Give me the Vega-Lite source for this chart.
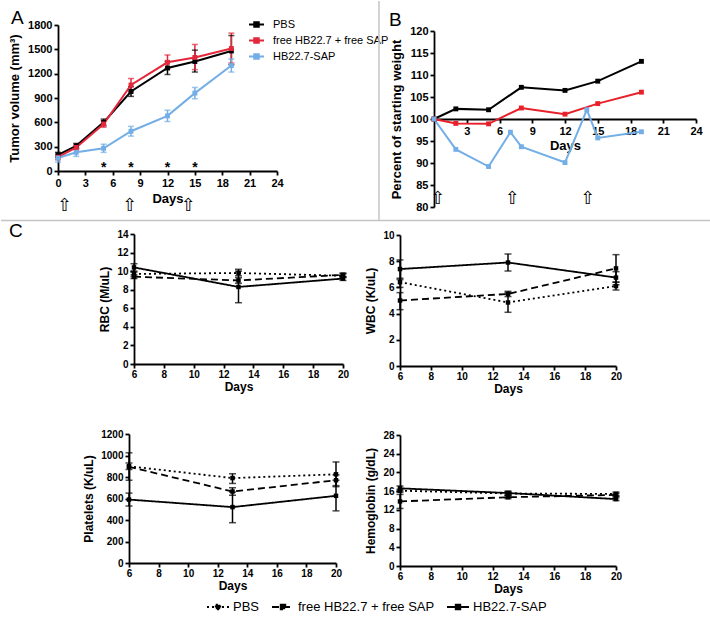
{
  "$schema": "https://vega.github.io/schema/vega-lite/v6.json",
  "padding": 0,
  "background": "white",
  "config": {
    "view": {"stroke": null},
    "font": "Liberation Sans",
    "axis": {"domainColor": "#000", "domainWidth": 1.8, "tickColor": "#000", "tickWidth": 1.8, "tickSize": 4, "labelColor": "#000", "labelFontWeight": "bold", "labelFontSize": 11, "labelPadding": 2, "labelFlush": false, "labelOverlap": false, "titleColor": "#000", "titleFontWeight": "bold", "titleFontSize": 13, "grid": false},
    "title": {"color": "#000", "fontWeight": "normal", "fontSize": 19}
  },
  "datasets": {
    "tumor": [
      {"day": 0, "group": "PBS", "vol": 200, "lo": 170, "hi": 230},
      {"day": 2, "group": "PBS", "vol": 310, "lo": 280, "hi": 340},
      {"day": 5, "group": "PBS", "vol": 600, "lo": 560, "hi": 640},
      {"day": 8, "group": "PBS", "vol": 980, "lo": 920, "hi": 1040},
      {"day": 12, "group": "PBS", "vol": 1270, "lo": 1190, "hi": 1350},
      {"day": 15, "group": "PBS", "vol": 1350, "lo": 1220, "hi": 1490},
      {"day": 19, "group": "PBS", "vol": 1480, "lo": 1310, "hi": 1670},
      {"day": 0, "group": "free HB22.7 + free SAP", "vol": 170, "lo": 140, "hi": 200},
      {"day": 2, "group": "free HB22.7 + free SAP", "vol": 290, "lo": 260, "hi": 320},
      {"day": 5, "group": "free HB22.7 + free SAP", "vol": 580, "lo": 540, "hi": 620},
      {"day": 8, "group": "free HB22.7 + free SAP", "vol": 1060, "lo": 980, "hi": 1140},
      {"day": 12, "group": "free HB22.7 + free SAP", "vol": 1340, "lo": 1260, "hi": 1430},
      {"day": 15, "group": "free HB22.7 + free SAP", "vol": 1400, "lo": 1250, "hi": 1560},
      {"day": 19, "group": "free HB22.7 + free SAP", "vol": 1510, "lo": 1330, "hi": 1700},
      {"day": 0, "group": "HB22.7-SAP", "vol": 160, "lo": 110, "hi": 210},
      {"day": 2, "group": "HB22.7-SAP", "vol": 230, "lo": 180, "hi": 280},
      {"day": 5, "group": "HB22.7-SAP", "vol": 280, "lo": 230, "hi": 330},
      {"day": 8, "group": "HB22.7-SAP", "vol": 490, "lo": 430, "hi": 550},
      {"day": 12, "group": "HB22.7-SAP", "vol": 680, "lo": 610, "hi": 750},
      {"day": 15, "group": "HB22.7-SAP", "vol": 960, "lo": 890, "hi": 1030},
      {"day": 19, "group": "HB22.7-SAP", "vol": 1300, "lo": 1220, "hi": 1380}
    ],
    "weight": [
      {"day": 0, "group": "PBS", "pct": 100},
      {"day": 2, "group": "PBS", "pct": 102.3},
      {"day": 5, "group": "PBS", "pct": 102.1},
      {"day": 8, "group": "PBS", "pct": 107.2},
      {"day": 12, "group": "PBS", "pct": 106.5},
      {"day": 15, "group": "PBS", "pct": 108.6},
      {"day": 19, "group": "PBS", "pct": 113.1},
      {"day": 0, "group": "free HB22.7 + free SAP", "pct": 100},
      {"day": 2, "group": "free HB22.7 + free SAP", "pct": 99.0},
      {"day": 5, "group": "free HB22.7 + free SAP", "pct": 98.9},
      {"day": 8, "group": "free HB22.7 + free SAP", "pct": 102.5},
      {"day": 12, "group": "free HB22.7 + free SAP", "pct": 101.1},
      {"day": 15, "group": "free HB22.7 + free SAP", "pct": 103.5},
      {"day": 19, "group": "free HB22.7 + free SAP", "pct": 106.1},
      {"day": 0, "group": "HB22.7-SAP", "pct": 100},
      {"day": 2, "group": "HB22.7-SAP", "pct": 93.1},
      {"day": 5, "group": "HB22.7-SAP", "pct": 89.2},
      {"day": 7, "group": "HB22.7-SAP", "pct": 97.0},
      {"day": 8, "group": "HB22.7-SAP", "pct": 93.7},
      {"day": 12, "group": "HB22.7-SAP", "pct": 90.1},
      {"day": 14, "group": "HB22.7-SAP", "pct": 102.1},
      {"day": 15, "group": "HB22.7-SAP", "pct": 95.7},
      {"day": 19, "group": "HB22.7-SAP", "pct": 97.1}
    ],
    "blood": [
      {"metric": "RBC", "trt": "PBS", "day": 6, "val": 9.7, "lo": 9.4, "hi": 10.0},
      {"metric": "RBC", "trt": "PBS", "day": 13, "val": 9.8, "lo": 9.5, "hi": 10.2},
      {"metric": "RBC", "trt": "PBS", "day": 20, "val": 9.5, "lo": 9.3, "hi": 9.7},
      {"metric": "RBC", "trt": "free HB22.7 + free SAP", "day": 6, "val": 9.4, "lo": 9.2, "hi": 9.6},
      {"metric": "RBC", "trt": "free HB22.7 + free SAP", "day": 13, "val": 9.0, "lo": 8.7, "hi": 9.3},
      {"metric": "RBC", "trt": "free HB22.7 + free SAP", "day": 20, "val": 9.6, "lo": 9.4, "hi": 9.8},
      {"metric": "RBC", "trt": "HB22.7-SAP", "day": 6, "val": 10.4, "lo": 9.9, "hi": 10.8},
      {"metric": "RBC", "trt": "HB22.7-SAP", "day": 13, "val": 8.3, "lo": 6.6, "hi": 10.0},
      {"metric": "RBC", "trt": "HB22.7-SAP", "day": 20, "val": 9.2, "lo": 9.0, "hi": 9.4},
      {"metric": "WBC", "trt": "PBS", "day": 6, "val": 6.4, "lo": 6.0, "hi": 6.7},
      {"metric": "WBC", "trt": "PBS", "day": 13, "val": 4.85, "lo": 4.1, "hi": 5.6},
      {"metric": "WBC", "trt": "PBS", "day": 20, "val": 6.1, "lo": 5.8, "hi": 6.4},
      {"metric": "WBC", "trt": "free HB22.7 + free SAP", "day": 6, "val": 5.0, "lo": 4.3, "hi": 5.6},
      {"metric": "WBC", "trt": "free HB22.7 + free SAP", "day": 13, "val": 5.5, "lo": 5.3, "hi": 5.7},
      {"metric": "WBC", "trt": "free HB22.7 + free SAP", "day": 20, "val": 7.45, "lo": 6.4, "hi": 8.5},
      {"metric": "WBC", "trt": "HB22.7-SAP", "day": 6, "val": 7.4, "lo": 6.6, "hi": 8.1},
      {"metric": "WBC", "trt": "HB22.7-SAP", "day": 13, "val": 7.9, "lo": 7.25, "hi": 8.55},
      {"metric": "WBC", "trt": "HB22.7-SAP", "day": 20, "val": 6.75, "lo": 6.2, "hi": 7.2},
      {"metric": "PLT", "trt": "PBS", "day": 6, "val": 900, "lo": 870, "hi": 930},
      {"metric": "PLT", "trt": "PBS", "day": 13, "val": 790, "lo": 740, "hi": 830},
      {"metric": "PLT", "trt": "PBS", "day": 20, "val": 825, "lo": 710, "hi": 940},
      {"metric": "PLT", "trt": "free HB22.7 + free SAP", "day": 6, "val": 895, "lo": 770, "hi": 1025},
      {"metric": "PLT", "trt": "free HB22.7 + free SAP", "day": 13, "val": 665, "lo": 630, "hi": 700},
      {"metric": "PLT", "trt": "free HB22.7 + free SAP", "day": 20, "val": 770, "lo": 720, "hi": 820},
      {"metric": "PLT", "trt": "HB22.7-SAP", "day": 6, "val": 590, "lo": 530, "hi": 650},
      {"metric": "PLT", "trt": "HB22.7-SAP", "day": 13, "val": 520, "lo": 375, "hi": 660},
      {"metric": "PLT", "trt": "HB22.7-SAP", "day": 20, "val": 625, "lo": 485, "hi": 770},
      {"metric": "HGB", "trt": "PBS", "day": 6, "val": 16.1, "lo": 15.8, "hi": 16.4},
      {"metric": "HGB", "trt": "PBS", "day": 13, "val": 15.5, "lo": 15.1, "hi": 15.9},
      {"metric": "HGB", "trt": "PBS", "day": 20, "val": 15.4, "lo": 15.0, "hi": 15.8},
      {"metric": "HGB", "trt": "free HB22.7 + free SAP", "day": 6, "val": 13.8, "lo": 12.3, "hi": 15.3},
      {"metric": "HGB", "trt": "free HB22.7 + free SAP", "day": 13, "val": 14.7, "lo": 14.4, "hi": 15.0},
      {"metric": "HGB", "trt": "free HB22.7 + free SAP", "day": 20, "val": 15.2, "lo": 14.9, "hi": 15.5},
      {"metric": "HGB", "trt": "HB22.7-SAP", "day": 6, "val": 16.6, "lo": 16.1, "hi": 17.1},
      {"metric": "HGB", "trt": "HB22.7-SAP", "day": 13, "val": 15.6, "lo": 15.2, "hi": 16.0},
      {"metric": "HGB", "trt": "HB22.7-SAP", "day": 20, "val": 14.3, "lo": 14.0, "hi": 14.6}
    ],
    "arrowsA": [{"day": 0.74, "pos": -431}, {"day": 7.9, "pos": -431}, {"day": 14.3, "pos": -431}],
    "starsA": [{"day": 5, "pos": 35}, {"day": 8, "pos": 35}, {"day": 12, "pos": 35}, {"day": 15, "pos": 35}],
    "arrowsB": [{"day": 0.37, "pos": 81.8}, {"day": 7.2, "pos": 81.8}, {"day": 14.1, "pos": 81.8}]
  },
  "columns": 2,
  "align": "each",
  "bounds": "flush",
  "spacing": {"row": 27, "column": 57},
  "resolve": {"scale": {"color": "independent", "strokeDash": "independent"}, "legend": {"color": "independent", "strokeDash": "independent"}},
  "concat": [
    {
      "width": 219,
      "height": 146,
      "title": {"text": "A", "anchor": "start", "frame": "group", "dx": -47, "offset": -11.5},
      "layer": [
        {
          "data": {"name": "tumor"},
          "mark": {"type": "rule", "strokeWidth": 1.5},
          "encoding": {
            "x": {"field": "day", "type": "quantitative", "scale": {"domain": [0, 24], "nice": false}, "axis": {"values": [0, 3, 6, 9, 12, 15, 18, 21, 24], "tickCount": 50, "format": "d", "title": "Days", "titlePadding": 4, "labelOverlap": false}},
            "y": {"field": "lo", "type": "quantitative", "title": "Tumor volume (mm³)", "scale": {"domain": [0, 1800], "nice": false}, "axis": {"values": [0, 300, 600, 900, 1200, 1500, 1800], "tickCount": 50, "format": "d", "titlePadding": 6, "labelOverlap": false}},
            "y2": {"field": "hi"},
            "color": {"field": "group", "type": "nominal", "scale": {"domain": ["PBS", "free HB22.7 + free SAP", "HB22.7-SAP"], "range": ["#000000", "#e3283c", "#73aee6"]}, "legend": {"title": null, "orient": "none", "direction": "vertical", "legendX": 190, "legendY": -9, "symbolType": "M-1,0L1,0M-0.3,-0.3L0.3,-0.3L0.3,0.3L-0.3,0.3Z", "symbolSize": 225, "symbolStrokeWidth": 2, "labelFontSize": 11, "labelColor": "#000", "rowPadding": 1, "labelOffset": 8, "encode": {"symbols": {"update": {"fill": {"scale": "color", "field": "value"}, "stroke": {"scale": "color", "field": "value"}}}}}}
          }
        },
        {
          "data": {"name": "tumor"},
          "mark": {"type": "tick", "orient": "horizontal", "size": 6, "thickness": 1.5},
          "encoding": {
            "x": {"field": "day", "type": "quantitative"},
            "y": {"field": "lo", "type": "quantitative", "title": "Tumor volume (mm³)"},
            "color": {"field": "group", "type": "nominal"}
          }
        },
        {
          "data": {"name": "tumor"},
          "mark": {"type": "tick", "orient": "horizontal", "size": 6, "thickness": 1.5},
          "encoding": {
            "x": {"field": "day", "type": "quantitative"},
            "y": {"field": "hi", "type": "quantitative", "title": "Tumor volume (mm³)"},
            "color": {"field": "group", "type": "nominal"}
          }
        },
        {
          "data": {"name": "tumor"},
          "mark": {"type": "line", "strokeWidth": 2},
          "encoding": {
            "x": {"field": "day", "type": "quantitative"},
            "y": {"field": "vol", "type": "quantitative", "title": "Tumor volume (mm³)"},
            "color": {"field": "group", "type": "nominal"}
          }
        },
        {
          "data": {"name": "tumor"},
          "mark": {"type": "square", "size": 24, "opacity": 1, "filled": true},
          "encoding": {
            "x": {"field": "day", "type": "quantitative"},
            "y": {"field": "vol", "type": "quantitative", "title": "Tumor volume (mm³)"},
            "color": {"field": "group", "type": "nominal"}
          }
        },
        {
          "data": {"name": "arrowsA"},
          "mark": {"type": "text", "text": "⇧", "font": "DejaVu Sans", "fontSize": 18, "color": "#000", "baseline": "middle"},
          "encoding": {
            "x": {"field": "day", "type": "quantitative"},
            "y": {"field": "pos", "type": "quantitative", "title": "Tumor volume (mm³)"}
          }
        },
        {
          "data": {"name": "starsA"},
          "mark": {"type": "text", "text": "*", "fontSize": 14, "fontWeight": "bold", "color": "#000", "baseline": "middle"},
          "encoding": {
            "x": {"field": "day", "type": "quantitative"},
            "y": {"field": "pos", "type": "quantitative", "title": "Tumor volume (mm³)"}
          }
        }
      ]
    },
    {
      "width": 296,
      "height": 182,
      "title": {"text": "B", "anchor": "start", "frame": "group", "dx": -11, "offset": -29.5},
      "layer": [
        {
          "data": {"name": "weight"},
          "mark": {"type": "line", "strokeWidth": 2},
          "encoding": {
            "x": {"field": "day", "type": "quantitative", "scale": {"domain": [0, 24], "nice": false, "range": [34, 296]}, "axis": {"values": [3, 6, 9, 12, 15, 18, 21, 24], "tickCount": 50, "format": "d", "title": "Days", "offset": -88, "titlePadding": 3, "labelOverlap": false}},
            "y": {"field": "pct", "type": "quantitative", "title": "Percent of starting weight", "scale": {"domain": [80, 120], "nice": false, "zero": false, "range": [182, 6]}, "axis": {"values": [80, 85, 90, 95, 100, 105, 110, 115, 120], "tickCount": 50, "format": "d", "titlePadding": 6, "offset": -34, "labelOverlap": false}},
            "color": {"field": "group", "type": "nominal", "scale": {"domain": ["PBS", "free HB22.7 + free SAP", "HB22.7-SAP"], "range": ["#000000", "#e8202a", "#73aee6"]}, "legend": null}
          }
        },
        {
          "data": {"name": "weight"},
          "mark": {"type": "square", "size": 24, "opacity": 1, "filled": true},
          "encoding": {
            "x": {"field": "day", "type": "quantitative"},
            "y": {"field": "pct", "type": "quantitative", "title": "Percent of starting weight"},
            "color": {"field": "group", "type": "nominal", "legend": null}
          }
        },
        {
          "data": {"name": "arrowsB"},
          "mark": {"type": "text", "text": "⇧", "font": "DejaVu Sans", "fontSize": 18, "color": "#000", "baseline": "middle"},
          "encoding": {
            "x": {"field": "day", "type": "quantitative"},
            "y": {"field": "pos", "type": "quantitative", "title": "Percent of starting weight"}
          }
        },
        {
          "data": {"values": [{}]},
          "mark": {"type": "rule", "color": "#c4c4c4", "strokeWidth": 1.5},
          "encoding": {"x": {"datum": -5.038, "type": "quantitative"}, "y": {"datum": 126.818, "type": "quantitative", "title": "Percent of starting weight"}, "y2": {"datum": 76.932}}
        },
        {
          "data": {"values": [{}]},
          "mark": {"type": "rule", "color": "#c4c4c4", "strokeWidth": 1.5},
          "encoding": {"x": {"datum": -39.664, "type": "quantitative"}, "x2": {"datum": 25.374}, "y": {"datum": 76.932, "type": "quantitative", "title": "Percent of starting weight"}}
        }
      ]
    },
    {
      "width": 285,
      "height": 130,
      "title": {"text": "C", "anchor": "start", "frame": "group", "dx": -49, "offset": -12},
      "data": {"name": "blood"},
      "transform": [{"filter": "datum.metric === 'RBC'"}],
      "encoding": {"x": {"field": "day", "type": "quantitative", "scale": {"domain": [6, 20], "nice": false, "range": [76, 285]}, "axis": {"values": [6, 8, 10, 12, 14, 16, 18, 20], "tickCount": 50, "format": "d", "title": "Days", "labelFontSize": 10, "titleFontSize": 12, "titlePadding": 2, "labelPadding": 1, "labelOverlap": false}}},
      "layer": [
        {"mark": {"type": "rule", "color": "#000", "strokeWidth": 1.5}, "encoding": {"y": {"field": "lo", "type": "quantitative", "title": "RBC (M/uL)", "scale": {"domain": [0, 14], "nice": false}, "axis": {"values": [0, 2, 4, 6, 8, 10, 12, 14], "tickCount": 50, "format": "d", "labelFontSize": 10, "titleFontSize": 12, "titlePadding": 5, "offset": -76, "labelOverlap": false}}, "y2": {"field": "hi"}}},
        {"mark": {"type": "tick", "orient": "horizontal", "size": 7, "thickness": 1.5, "color": "#000"}, "encoding": {"y": {"field": "lo", "type": "quantitative", "title": "RBC (M/uL)"}}},
        {"mark": {"type": "tick", "orient": "horizontal", "size": 7, "thickness": 1.5, "color": "#000"}, "encoding": {"y": {"field": "hi", "type": "quantitative", "title": "RBC (M/uL)"}}},
        {"mark": {"type": "line", "color": "#000", "strokeWidth": 1.8}, "encoding": {"y": {"field": "val", "type": "quantitative", "title": "RBC (M/uL)"}, "strokeDash": {"field": "trt", "type": "nominal", "scale": {"domain": ["PBS", "free HB22.7 + free SAP", "HB22.7-SAP"], "range": [[2, 3], [7, 4], [1, 0]]}, "legend": {"title": null, "orient": "none", "direction": "horizontal", "legendX": 148, "legendY": 361, "symbolType": "M-1,0L1,0M-0.2,-0.2L0.2,-0.2L0.2,0.2L-0.2,0.2Z", "symbolSize": 484, "symbolStrokeWidth": 2, "symbolStrokeColor": "#000", "symbolFillColor": "#000", "labelFontSize": 13, "labelColor": "#000", "labelOffset": 3, "columnPadding": 8}}}},
        {"mark": {"type": "square", "color": "#000", "size": 20, "opacity": 1, "filled": true}, "encoding": {"y": {"field": "val", "type": "quantitative", "title": "RBC (M/uL)"}}}
      ]
    },
    {
      "width": 216,
      "height": 132,
      "data": {"name": "blood"},
      "transform": [{"filter": "datum.metric === 'WBC'"}],
      "encoding": {"x": {"field": "day", "type": "quantitative", "scale": {"domain": [6, 20], "nice": false}, "axis": {"values": [6, 8, 10, 12, 14, 16, 18, 20], "tickCount": 50, "format": "d", "title": "Days", "labelFontSize": 10, "titleFontSize": 12, "titlePadding": 2, "labelPadding": 1, "labelOverlap": false}}},
      "layer": [
        {"mark": {"type": "rule", "color": "#000", "strokeWidth": 1.5}, "encoding": {"y": {"field": "lo", "type": "quantitative", "title": "WBC (K/uL)", "scale": {"domain": [0, 10], "nice": false, "range": [132, 1]}, "axis": {"values": [0, 2, 4, 6, 8, 10], "tickCount": 50, "format": "d", "labelFontSize": 10, "titleFontSize": 12, "titlePadding": 5, "labelOverlap": false}}, "y2": {"field": "hi"}}},
        {"mark": {"type": "tick", "orient": "horizontal", "size": 7, "thickness": 1.5, "color": "#000"}, "encoding": {"y": {"field": "lo", "type": "quantitative", "title": "WBC (K/uL)"}}},
        {"mark": {"type": "tick", "orient": "horizontal", "size": 7, "thickness": 1.5, "color": "#000"}, "encoding": {"y": {"field": "hi", "type": "quantitative", "title": "WBC (K/uL)"}}},
        {"mark": {"type": "line", "color": "#000", "strokeWidth": 1.8}, "encoding": {"y": {"field": "val", "type": "quantitative", "title": "WBC (K/uL)"}, "strokeDash": {"field": "trt", "type": "nominal", "scale": {"domain": ["PBS", "free HB22.7 + free SAP", "HB22.7-SAP"], "range": [[2, 3], [7, 4], [1, 0]]}, "legend": null}}},
        {"mark": {"type": "square", "color": "#000", "size": 20, "opacity": 1, "filled": true}, "encoding": {"y": {"field": "val", "type": "quantitative", "title": "WBC (K/uL)"}}}
      ]
    },
    {
      "width": 278,
      "height": 170,
      "data": {"name": "blood"},
      "transform": [{"filter": "datum.metric === 'PLT'"}],
      "encoding": {"x": {"field": "day", "type": "quantitative", "scale": {"domain": [6, 20], "nice": false, "range": [71, 278]}, "axis": {"values": [6, 8, 10, 12, 14, 16, 18, 20], "tickCount": 50, "format": "d", "title": "Days", "labelFontSize": 10, "titleFontSize": 12, "titlePadding": 2, "labelPadding": 1, "labelOverlap": false}}},
      "layer": [
        {"mark": {"type": "rule", "color": "#000", "strokeWidth": 1.5}, "encoding": {"y": {"field": "lo", "type": "quantitative", "title": "Platelets (K/uL)", "scale": {"domain": [0, 1200], "nice": false, "range": [170, 41]}, "axis": {"values": [0, 200, 400, 600, 800, 1000, 1200], "tickCount": 50, "format": "d", "labelFontSize": 10, "titleFontSize": 12, "titlePadding": 5, "offset": -71, "labelOverlap": false}}, "y2": {"field": "hi"}}},
        {"mark": {"type": "tick", "orient": "horizontal", "size": 7, "thickness": 1.5, "color": "#000"}, "encoding": {"y": {"field": "lo", "type": "quantitative", "title": "Platelets (K/uL)"}}},
        {"mark": {"type": "tick", "orient": "horizontal", "size": 7, "thickness": 1.5, "color": "#000"}, "encoding": {"y": {"field": "hi", "type": "quantitative", "title": "Platelets (K/uL)"}}},
        {"mark": {"type": "line", "color": "#000", "strokeWidth": 1.8}, "encoding": {"y": {"field": "val", "type": "quantitative", "title": "Platelets (K/uL)"}, "strokeDash": {"field": "trt", "type": "nominal", "scale": {"domain": ["PBS", "free HB22.7 + free SAP", "HB22.7-SAP"], "range": [[2, 3], [7, 4], [1, 0]]}, "legend": null}}},
        {"mark": {"type": "square", "color": "#000", "size": 20, "opacity": 1, "filled": true}, "encoding": {"y": {"field": "val", "type": "quantitative", "title": "Platelets (K/uL)"}}}
      ]
    },
    {
      "width": 216,
      "height": 173,
      "data": {"name": "blood"},
      "transform": [{"filter": "datum.metric === 'HGB'"}],
      "encoding": {"x": {"field": "day", "type": "quantitative", "scale": {"domain": [6, 20], "nice": false}, "axis": {"values": [6, 8, 10, 12, 14, 16, 18, 20], "tickCount": 50, "format": "d", "title": "Days", "labelFontSize": 10, "titleFontSize": 12, "titlePadding": 2, "labelPadding": 1, "labelOverlap": false}}},
      "layer": [
        {"mark": {"type": "rule", "color": "#000", "strokeWidth": 1.5}, "encoding": {"y": {"field": "lo", "type": "quantitative", "title": "Hemoglobin (g/dL)", "scale": {"domain": [0, 28], "nice": false, "range": [173, 42]}, "axis": {"values": [0, 4, 8, 12, 16, 20, 24, 28], "tickCount": 50, "format": "d", "labelFontSize": 10, "titleFontSize": 12, "titlePadding": 5, "labelOverlap": false}}, "y2": {"field": "hi"}}},
        {"mark": {"type": "tick", "orient": "horizontal", "size": 7, "thickness": 1.5, "color": "#000"}, "encoding": {"y": {"field": "lo", "type": "quantitative", "title": "Hemoglobin (g/dL)"}}},
        {"mark": {"type": "tick", "orient": "horizontal", "size": 7, "thickness": 1.5, "color": "#000"}, "encoding": {"y": {"field": "hi", "type": "quantitative", "title": "Hemoglobin (g/dL)"}}},
        {"mark": {"type": "line", "color": "#000", "strokeWidth": 1.8}, "encoding": {"y": {"field": "val", "type": "quantitative", "title": "Hemoglobin (g/dL)"}, "strokeDash": {"field": "trt", "type": "nominal", "scale": {"domain": ["PBS", "free HB22.7 + free SAP", "HB22.7-SAP"], "range": [[2, 3], [7, 4], [1, 0]]}, "legend": null}}},
        {"mark": {"type": "square", "color": "#000", "size": 20, "opacity": 1, "filled": true}, "encoding": {"y": {"field": "val", "type": "quantitative", "title": "Hemoglobin (g/dL)"}}}
      ]
    }
  ]
}
